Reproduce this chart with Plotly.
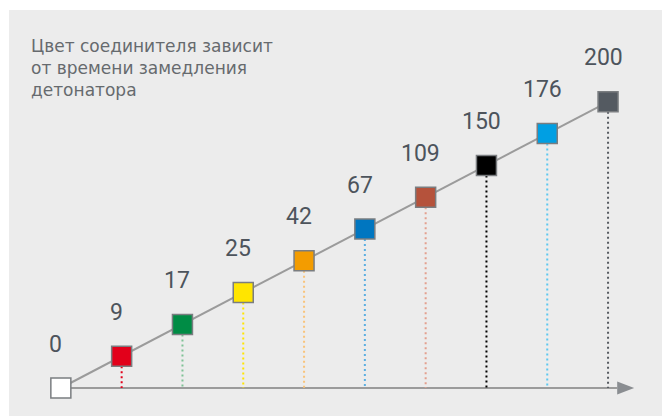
import plotly.graph_objects as go

# ---- data ----
delays = [0, 9, 17, 25, 42, 67, 109, 150, 176, 200]
square_colors = ["#ffffff", "#e2001a", "#008c45", "#ffe500", "#f39c00",
                 "#0076c0", "#b5523b", "#000000", "#009fe3", "#545a61"]
dot_colors = ["#ffffff", "#e2001a", "#7fc196", "#ffe500", "#f9c37a",
              "#5aaee2", "#e3a08f", "#000000", "#5cc8f0", "#555a60"]
title_lines = ["Цвет соединителя зависит", "от времени замедления", "детонатора"]

idx = list(range(len(delays)))

fig = go.Figure()

# connecting line
fig.add_trace(go.Scatter(x=idx, y=idx, mode="lines",
                         line=dict(color="#9b9b9b", width=2),
                         hoverinfo="skip", showlegend=False))
# squares
fig.add_trace(go.Scatter(x=idx, y=idx, mode="markers",
                         marker=dict(symbol="square", size=20, color=square_colors,
                                     line=dict(color="#7a7d80", width=1.5)),
                         showlegend=False))

shapes = []
# axis line
shapes.append(dict(type="line", xref="x", yref="y", x0=0, x1=idx[-1] + 0.15, y0=0, y1=0,
                   line=dict(color="#9b9b9b", width=2), layer="below"))
# arrow head
shapes.append(dict(type="path", xref="x", yref="y", xsizemode="pixel", ysizemode="pixel",
                   xanchor=idx[-1] + 0.15, yanchor=0,
                   path="M 0,-6.5 L 17,0 L 0,6.5 Z",
                   fillcolor="#8a8d91", line=dict(width=0)))
# dotted drop lines
for i, c in zip(idx[1:], dot_colors[1:]):
    shapes.append(dict(type="line", xref="x", yref="y", x0=i, x1=i, y0=i, y1=0,
                       line=dict(color=c, width=2, dash="2px,3px"), layer="below"))

annotations = []
for i, v in zip(idx, delays):
    annotations.append(dict(x=i, y=i, xref="x", yref="y", text=str(v), showarrow=False,
                            xshift=-5, yshift=44,
                            font=dict(family="Roboto", size=23, color="#4d545c")))
annotations.append(dict(x=0.0299, y=0.861, xref="paper", yref="paper", xanchor="left",
                        yanchor="middle", align="left", showarrow=False,
                        text="<br>".join(title_lines),
                        font=dict(family="DejaVu Sans", size=17, color="#666a6e")))

fig.update_layout(
    width=670, height=416,
    margin=dict(l=1, r=0, t=2, b=0),
    paper_bgcolor="#ffffff", plot_bgcolor="#ececec",
    xaxis=dict(range=[-0.8528, 10.1505], visible=False, fixedrange=True),
    yaxis=dict(range=[-1.132, 11.887], visible=False, fixedrange=True),
    shapes=shapes, annotations=annotations,
)

fig.write_html("out.html")
